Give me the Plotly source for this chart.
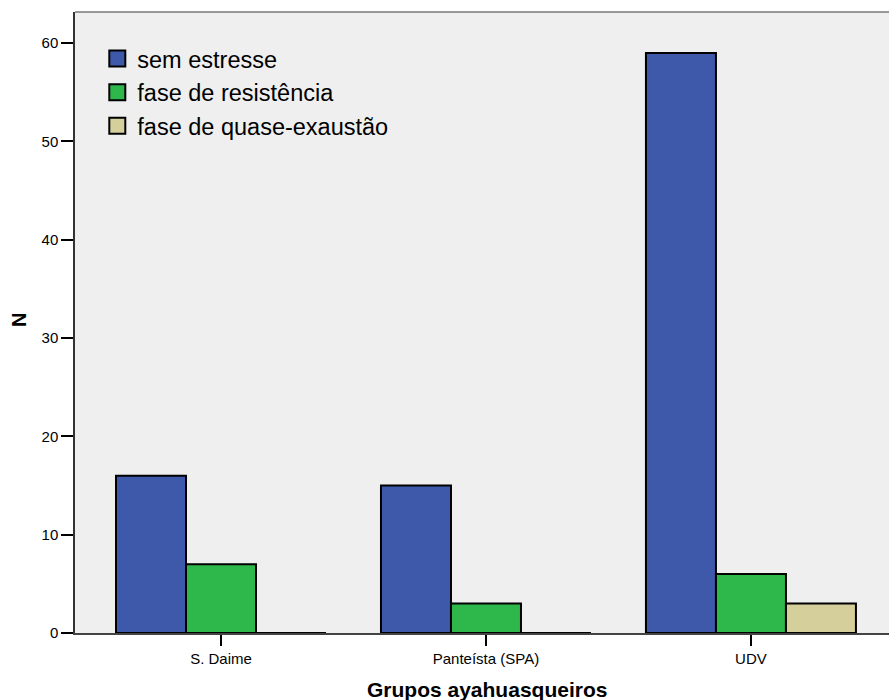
import plotly.graph_objects as go

categories = ["S. Daime", "Panteísta (SPA)", "UDV"]
series_names = ["sem estresse", "fase de resistência", "fase de quase-exaustão"]
sem_estresse = [16, 15, 59]
fase_resistencia = [7, 3, 6]
fase_quase_exaustao = [0, 0, 3]
y_ticks = [0, 10, 20, 30, 40, 50, 60]

colors = ["#3E58AA", "#2EB84B", "#D4CF9B"]
values = [sem_estresse, fase_resistencia, fase_quase_exaustao]

FONT = "Liberation Sans, Arial, Helvetica, sans-serif"

fig = go.Figure()
for name, vals, col in zip(series_names, values, colors):
    fig.add_trace(go.Bar(
        x=categories, y=vals, name=name, showlegend=False, legendgroup=name,
        marker=dict(color=col, line=dict(color="black", width=2)),
        hoverinfo="x+y+name",
    ))
# legend entries (square symbols like the original)
for name, col in zip(series_names, colors):
    fig.add_trace(go.Scatter(
        x=[None], y=[None], mode="markers", name=name, legendgroup=name,
        marker=dict(symbol="square", size=16, color=col, line=dict(color="black", width=2)),
        showlegend=True,
    ))

fig.update_layout(
    width=889, height=700,
    margin=dict(l=75, r=0, t=12, b=67),
    paper_bgcolor="white",
    plot_bgcolor="#EFEFEF",
    barmode="group",
    bargap=0.2075,
    bargroupgap=0,
    font=dict(family=FONT, size=15, color="black"),
    legend=dict(
        x=0.0274, y=0.96, xanchor="left", yanchor="top",
        bgcolor="rgba(0,0,0,0)", borderwidth=0,
        tracegroupgap=0,
        font=dict(family=FONT, size=23.5, color="black"),
        itemsizing="trace",
    ),
    xaxis=dict(
        type="category",
        range=[-0.551, 2.521],
        showgrid=False, zeroline=False,
        showline=True, linecolor="#444", linewidth=2,
        ticks="outside", ticklen=11, tickwidth=2, tickcolor="black",
        tickfont=dict(family=FONT, size=15, color="black"),
    ),
    yaxis=dict(
        range=[0, 63.17],
        tickvals=y_ticks,
        showgrid=False, zeroline=False,
        showline=True, linecolor="#333", linewidth=1.5,
        ticks="outside", ticklen=12, tickwidth=2, tickcolor="black",
        tickfont=dict(family=FONT, size=15, color="black"),
    ),
    shapes=[dict(type="line", xref="paper", yref="paper", x0=0, x1=1, y0=1, y1=1,
                 line=dict(color="#777", width=1.5))],
    annotations=[
        dict(text="<b>Grupos ayahuasqueiros</b>", xref="paper", yref="paper",
             x=(487 - 75) / 814, y=(633 - 689) / 621, xanchor="center", yanchor="middle",
             showarrow=False, font=dict(family=FONT, size=21, color="black")),
        dict(text="<b>N</b>", xref="paper", yref="paper",
             x=(19 - 75) / 814, y=(633 - 320) / 621, xanchor="center", yanchor="middle",
             textangle=-90, showarrow=False, font=dict(family=FONT, size=20, color="black")),
    ],
)

fig.write_html(
    "out.html",
    config={"displayModeBar": False},
    post_script="document.body.style.margin='0';document.body.style.overflow='hidden';",
)
